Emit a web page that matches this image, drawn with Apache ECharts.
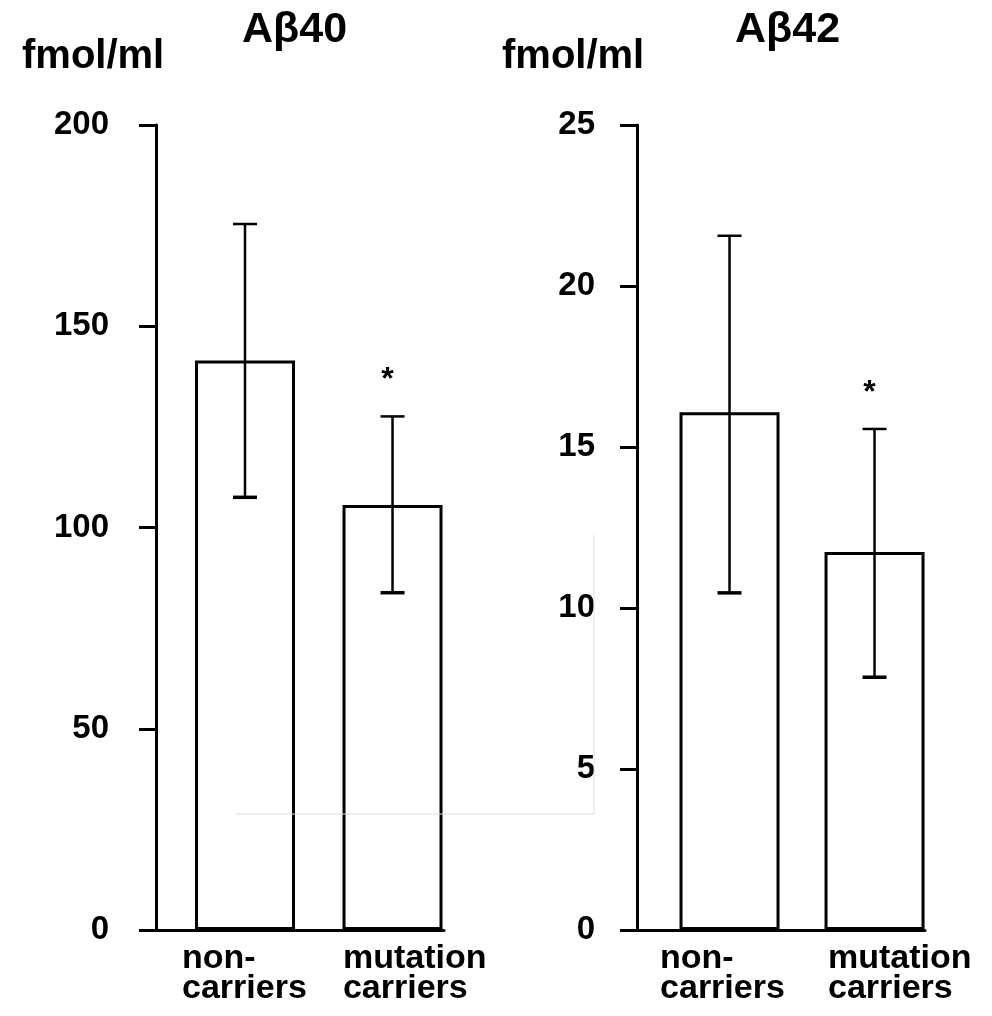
<!DOCTYPE html>
<html>
<head>
<meta charset="utf-8">
<script src="https://cdn.jsdelivr.net/npm/echarts@6/dist/echarts.min.js"></script>
<style>
  html, body { margin: 0; padding: 0; background: #fff; }
  #chart { width: 992px; height: 1016px; }
</style>
</head>
<body>
<div id="chart"></div>
<script>
// categories (bar positions on the x value axis are 0 and 1)
var categories = ['non-\ncarriers', 'mutation\ncarriers'];
var catPos = [0, 1];
var sig = ['', '*'];

// Abeta40, fmol/ml
var ab40Mean = [141.5, 105.6];
var ab40Low = [107.5, 83.8];
var ab40High = [175.4, 127.6];

// Abeta42, fmol/ml
var ab42Mean = [16.08, 11.74];
var ab42Low = [10.47, 7.85];
var ab42High = [21.56, 15.56];

// y axis ticks
var ab40Axis = { min: 0, max: 200, interval: 50 };
var ab42Axis = { min: 0, max: 25, interval: 5 };

var FONT = "'Liberation Sans', Arial, Helvetica, sans-serif";

var myChart = echarts.init(document.getElementById('chart'));

function errorBars(mean, low, high) {
  return mean.map(function (m, i) {
    return [catPos[i], low[i], high[i], sig[i]];
  });
}

function renderError(params, api) {
  var x = api.value(0);
  var lo = api.coord([x, api.value(1)]);
  var hi = api.coord([x, api.value(2)]);
  var cap = 12;
  var st = { stroke: '#000', lineWidth: 2.5 };
  var children = [
    { type: 'line', shape: { x1: lo[0], y1: lo[1], x2: hi[0], y2: hi[1] }, style: st },
    { type: 'line', shape: { x1: hi[0] - cap, y1: hi[1], x2: hi[0] + cap, y2: hi[1] }, style: st },
    { type: 'line', shape: { x1: lo[0] - cap, y1: lo[1], x2: lo[0] + cap, y2: lo[1] }, style: { stroke: '#000', lineWidth: 3.5 } }
  ];
  var mark = api.value(3);
  if (mark) {
    children.push({
      type: 'text',
      style: {
        text: mark, x: hi[0] - 5, y: hi[1] - 36,
        textAlign: 'center', textVerticalAlign: 'middle',
        font: 'bold 32px ' + FONT, fill: '#000'
      }
    });
  }
  return { type: 'group', children: children };
}

function xAxisOf(gridIndex, min, max, shift) {
  var labelPos = catPos.map(function (p, i) { return p + shift[i]; });
  return {
    type: 'value',
    gridIndex: gridIndex,
    min: min,
    max: max,
    axisLine: { show: true, onZero: false, lineStyle: { color: '#000', width: 3 } },
    axisTick: { show: false },
    splitLine: { show: false },
    axisLabel: {
      customValues: labelPos,
      align: 'left',
      margin: 14,
      color: '#000',
      fontFamily: FONT,
      fontWeight: 'bold',
      fontSize: 34,
      lineHeight: 30,
      formatter: function (v) {
        var best = 0;
        labelPos.forEach(function (p, i) {
          if (Math.abs(p - v) < Math.abs(labelPos[best] - v)) best = i;
        });
        return categories[best];
      }
    }
  };
}

function yAxisOf(gridIndex, ax, margin) {
  return {
    type: 'value',
    gridIndex: gridIndex,
    min: ax.min,
    max: ax.max,
    interval: ax.interval,
    axisLine: { show: true, onZero: false, lineStyle: { color: '#000', width: 3 } },
    axisTick: { show: true, length: 17, lineStyle: { color: '#000', width: 3 } },
    splitLine: { show: false },
    axisLabel: {
      margin: margin,
      color: '#000',
      fontFamily: FONT,
      fontWeight: 'bold',
      fontSize: 33,
      padding: [0, 0, 14, 0]
    }
  };
}

var titleStyle = function (size) {
  return { color: '#000', fontFamily: FONT, fontWeight: 'bold', fontSize: size };
};

myChart.setOption({
  backgroundColor: '#fff',
  animation: false,
  title: [
    { text: 'fmol/ml', left: 22, top: 37, padding: 0, textStyle: titleStyle(40) },
    { text: 'Aβ40', left: 242, top: 9, padding: 0, textStyle: titleStyle(43) },
    { text: 'fmol/ml', left: 502, top: 37, padding: 0, textStyle: titleStyle(40) },
    { text: 'Aβ42', left: 735, top: 9, padding: 0, textStyle: titleStyle(43) }
  ],
  grid: [
    { left: 156, top: 125, width: 288, height: 805 },
    { left: 637, top: 125, width: 288, height: 805 }
  ],
  xAxis: [
    xAxisOf(0, -0.6034, 1.349, [-0.427, -0.336]),
    xAxisOf(1, -0.638, 1.348, [-0.479, -0.321])
  ],
  yAxis: [
    yAxisOf(0, ab40Axis, 47),
    yAxisOf(1, ab42Axis, 42)
  ],
  // faint scan artefact lines in the original figure
  graphic: [
    {
      type: 'polyline', z: 100,
      shape: { points: [[236, 814], [594, 814], [594, 535]] },
      style: { stroke: '#dddddd', lineWidth: 1, fill: null }
    }
  ],
  series: [
    {
      type: 'bar', xAxisIndex: 0, yAxisIndex: 0, barWidth: 100,
      itemStyle: { color: '#fff', borderColor: '#000', borderWidth: 3 },
      data: ab40Mean.map(function (v, i) { return [catPos[i], v]; })
    },
    {
      type: 'custom', xAxisIndex: 0, yAxisIndex: 0, z: 5,
      renderItem: renderError,
      encode: { x: 0, y: [1, 2] },
      data: errorBars(ab40Mean, ab40Low, ab40High)
    },
    {
      type: 'bar', xAxisIndex: 1, yAxisIndex: 1, barWidth: 100,
      itemStyle: { color: '#fff', borderColor: '#000', borderWidth: 3 },
      data: ab42Mean.map(function (v, i) { return [catPos[i], v]; })
    },
    {
      type: 'custom', xAxisIndex: 1, yAxisIndex: 1, z: 5,
      renderItem: renderError,
      encode: { x: 0, y: [1, 2] },
      data: errorBars(ab42Mean, ab42Low, ab42High)
    }
  ]
});
</script>
</body>
</html>
